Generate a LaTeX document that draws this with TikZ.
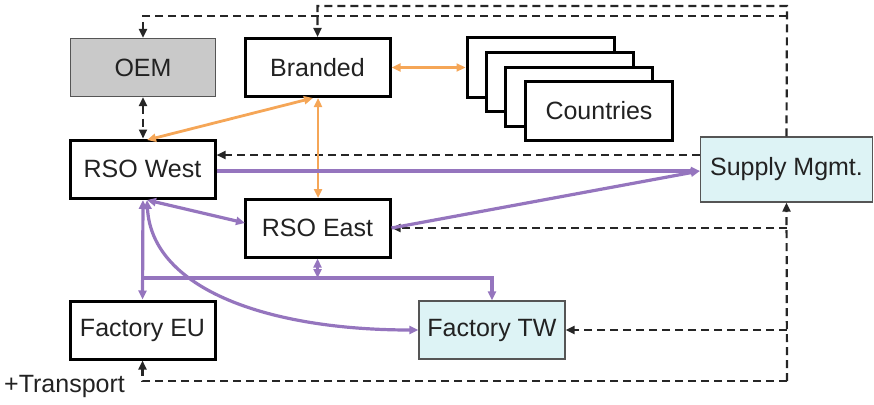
\documentclass[tikz,border=0pt]{standalone}
\usepackage{fontspec}
\setmainfont{Liberation Sans}
\usetikzlibrary{arrows.meta}
\definecolor{txt}{HTML}{222222}
\definecolor{oemgray}{HTML}{C9C9C9}
\definecolor{lightcyan}{HTML}{DDF3F5}
\definecolor{frame}{HTML}{555555}
\definecolor{flow}{HTML}{F5A657}
\definecolor{goods}{HTML}{9575BE}
\begin{document}
\begin{tikzpicture}[x=1pt,y=-1pt,
  every node/.style={font=\fontsize{25}{28}\selectfont, text=txt},
  boldbox/.style={draw=black, line width=3pt, fill=white, minimum width=145pt, minimum height=58pt, inner sep=0pt},
  thinbox/.style={draw=frame, line width=1.3pt, minimum width=145pt, minimum height=58pt, inner sep=0pt},
  tip/.style={-{Triangle[length=9pt,width=8pt]}},
  both/.style={{Triangle[length=9pt,width=8pt]}-{Triangle[length=9pt,width=8pt]}},
  info/.style={draw=black!85, line width=2.2pt, dash pattern=on 8pt off 5pt},
  orangeline/.style={draw=flow, line width=2.8pt},
  purpleline/.style={draw=goods, line width=3.2pt}]
\useasboundingbox (0,0) rectangle (874,404);

% boxes
\node[thinbox, fill=oemgray] (oem) at (143,67.5) {OEM};
\node[boldbox] (branded) at (317.5,67.5) {Branded};
\node[boldbox] (west) at (142.5,169) {RSO West};
\node[boldbox] (east) at (317.5,228) {RSO East};
\node[boldbox] (feu) at (142.5,330) {Factory EU};
\node[thinbox, fill=lightcyan, minimum width=146pt] (ftw) at (492,330) {Factory TW};
\node[thinbox, fill=lightcyan, minimum width=172pt, minimum height=65pt] (sm) at (786.5,169.5) {Supply Mgmt.};

% stacked country boxes
\node[boldbox, minimum width=147pt, minimum height=59pt] (c1) at (540.5,67.5) {};
\node[boldbox, minimum width=147pt, minimum height=59pt] (c2) at (559.5,82) {};
\node[boldbox, minimum width=147pt, minimum height=59pt] (c3) at (579,96.5) {};
\node[boldbox, minimum width=147pt, minimum height=59pt] (c4) at (599,111) {Countries};

\node[anchor=west, inner sep=0pt] (transport) at (4,386) {+Transport};

% information flows (dashed)
\coordinate (top1) at (787,6);
\coordinate (top2) at (787,16);
\coordinate (bot) at (787,381);
\coordinate (wdash) at (0,155);
\draw[info, tip] (sm.north) -- (top1) -- (branded.north |- top1) -- (branded.north);
\draw[info, tip] (top2) -- (oem.north |- top2) -- (oem.north);
\draw[info, both] (oem.south) -- (oem.south |- west.north);
\draw[info, tip] (sm.west |- wdash) -- (west.east |- wdash);
\draw[info, tip] (bot) -- (sm.south);
\draw[info, tip] (bot |- east.east) -- (east.east);
\draw[info, tip] (bot |- ftw.east) -- (ftw.east);
\draw[info, tip] (bot) -- (feu.south |- bot) -- (feu.south);

% brand flows (orange)
\coordinate (bb) at (313,98);
\draw[orangeline, both] (branded.east) -- (c1.west);
\draw[orangeline, both] (bb) -- (147,140);
\draw[orangeline, both] (318,98) -- (318,198);

% goods flows (purple)
\coordinate (wb) at (147,200);
\coordinate (split) at (143,278);
\coordinate (wpurple) at (0,171);
\draw[purpleline, tip] (west.east |- wpurple) -- (sm.west |- wpurple);
\draw[purpleline, tip] (east.east) -- (sm.west |- wpurple);
\draw[purpleline, both] (wb) -- (245,223);
\draw[purpleline, both] (143,200) -- (feu.north);
\draw[purpleline, tip] (split) -- (ftw.north |- split) -- (ftw.north);
\draw[purpleline, both] (east.south |- split) -- (east.south);
\draw[purpleline, both] (wb) .. controls (152,290) and (270,330) .. (ftw.west);
\end{tikzpicture}
\end{document}
